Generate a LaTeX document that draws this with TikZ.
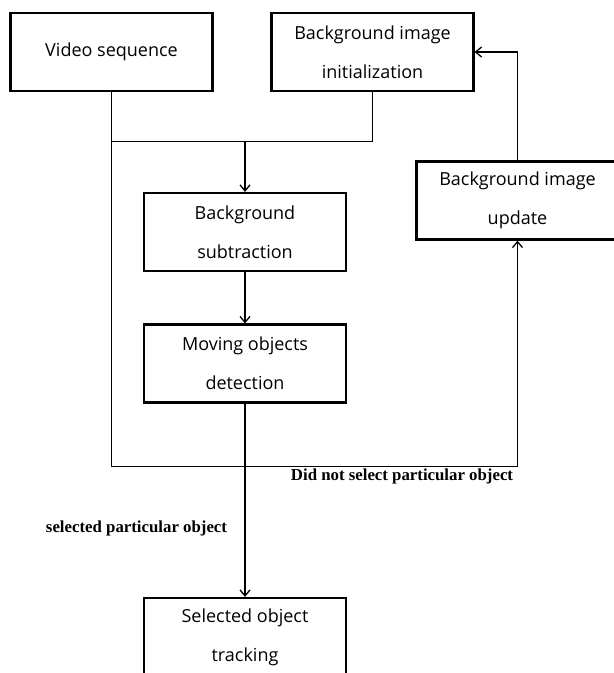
\documentclass[tikz,border=0pt]{standalone}
\usepackage{fontspec}
\setmainfont{Open Sans}
\newfontfamily\labfont{Liberation Serif}
\usetikzlibrary{arrows.meta}
\begin{document}
\begin{tikzpicture}[x=1pt,y=-1pt,
  box/.style={draw, line width=2.2pt, minimum width=202pt, minimum height=78pt,
    inner sep=0pt, align=center, font=\fontsize{18}{39}\selectfont},
  conn/.style={line width=1.3pt},
  arr/.style={conn, -{Straight Barb[length=6pt,width=10pt]}},
  lab/.style={font=\labfont\bfseries\fontsize{16.8}{20}\selectfont, inner sep=0pt}]
\useasboundingbox (0,0) rectangle (614,673);
\clip (0,0) rectangle (614,673);
\node[box] (vid) at (111.5,52) {Video sequence};
\node[box] (ini) at (372.5,52) {Background image\\initialization};
\node[box] (upd) at (517.5,200.5) {Background image\\update};
\node[box] (sub) at (245,232) {Background\\subtraction};
\node[box] (mov) at (245,363.5) {Moving objects\\detection};
\node[box] (sel) at (245,637) {Selected object\\tracking};
\coordinate (j1) at (111.5,141.7);
\coordinate (j2) at (111.5,466.7);
\draw[arr] (vid.south) -- (j2) -- (j2 -| upd.south) -- (upd.south);
\draw[conn] (ini.south) |- (j1);
\draw[arr] (j1 -| sub.north) -- (sub.north);
\draw[arr] (sub.south) -- (mov.north);
\draw[arr] (mov.south) -- (sel.north);
\draw[arr] (upd.north) |- (ini.east);
\node[lab] (l1) at (402,476.7) {Did not select particular object};
\node[lab] (l2) at (136.5,528) {selected particular object};
\end{tikzpicture}
\end{document}
